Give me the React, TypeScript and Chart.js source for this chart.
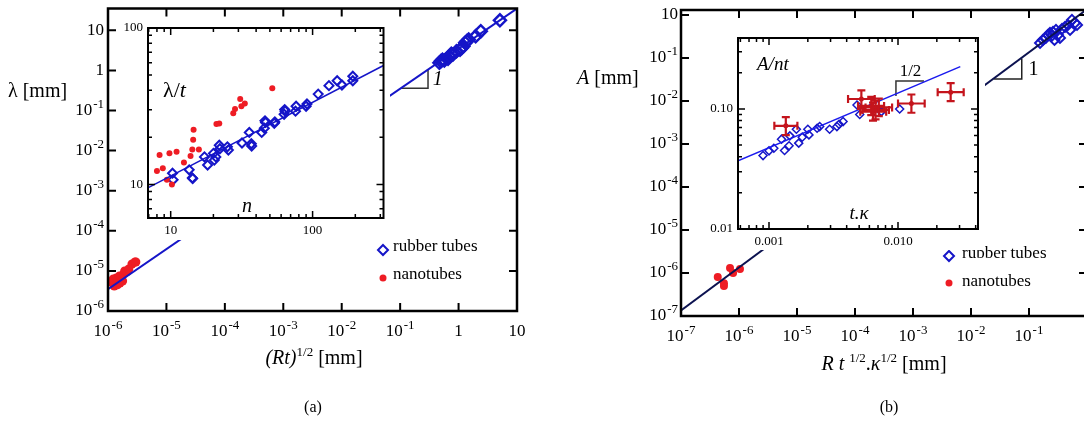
import React, { useEffect, useRef } from 'react';
import { Chart, registerables } from 'chart.js';
Chart.register(...registerables);

const FONT = '"Liberation Serif", "DejaVu Serif", serif';
const BLUE = '#1515c8';
const RED = '#ee1c24';
const DARKRED = '#c4141c';
const NAVY = '#0c1250';

// ---------- Panel (a) main ----------
const aXTicks = [1e-6, 1e-5, 1e-4, 1e-3, 1e-2, 1e-1, 1, 10];
const aXTickLabels = ['10^-6', '10^-5', '10^-4', '10^-3', '10^-2', '10^-1', '1', '10'];
const aYTicks = [1e-6, 1e-5, 1e-4, 1e-3, 1e-2, 1e-1, 1, 10];
const aYTickLabels = ['10^-6', '10^-5', '10^-4', '10^-3', '10^-2', '10^-1', '1', '10'];
const aRubX = [0.47, 0.5, 0.53, 0.57, 0.66, 0.7, 0.75, 0.8, 0.92, 1.06, 1.13, 1.21, 1.3, 1.39, 1.49, 1.96, 2.4, 5.1];
const aRubY = [1.55, 1.71, 1.85, 1.77, 1.95, 2.27, 2.6, 2.5, 3.0, 3.3, 3.6, 4.0, 4.9, 5.4, 5.9, 7.1, 9.5, 17.8];
const aNanoX = [1.13e-6, 1.23e-6, 1.28e-6, 1.39e-6, 1.45e-6, 1.5e-6, 1.57e-6, 1.6e-6, 1.78e-6, 1.85e-6, 1.93e-6, 2.1e-6, 2.27e-6, 2.57e-6, 2.9e-6, 3.0e-6];
const aNanoY = [5.3e-6, 6.3e-6, 4.2e-6, 6.7e-6, 4.5e-6, 6e-6, 7.5e-6, 5e-6, 5.6e-6, 8.4e-6, 1.0e-5, 9.5e-6, 1.12e-5, 1.49e-5, 1.67e-5, 1.67e-5];
const aFitX = [1e-6, 10];
const aFitY = [3.5e-6, 35];
const aTriX = [0.103, 0.3, 0.3];
const aTriY = [0.36, 0.36, 1.05];

// ---------- Panel (a) inset ----------
const aInXMajor = [10, 100];
const aInXLabels = ['10', '100'];
const aInXMinor = [7, 8, 9, 20, 30, 40, 50, 60, 70, 80, 90, 200, 300];
const aInYMajor = [10, 100];
const aInYLabels = ['10', '100'];
const aInYMinor = [7, 8, 9, 20, 30, 40, 50, 60, 70, 80, 90];
const aInRubN = [10.3, 10.4, 13.5, 14.2, 14.3, 17.3, 18.2, 20.0, 20.3, 20.8, 22.0, 22.2, 25.1, 25.5, 31.8, 35.8, 37.0, 37.2, 43.8, 45.7, 46.2, 46.6, 53.7, 54.2, 63.0, 63.6, 64.0, 75.8, 76.5, 90, 91.3, 109.5, 130.4, 149, 161, 192, 192];
const aInRubY = [11.8, 10.7, 12.4, 11.0, 10.9, 15.0, 13.3, 15.8, 14.3, 15.0, 17.8, 16.9, 17.4, 16.6, 18.4, 21.5, 18.2, 17.6, 21.5, 22.9, 25.5, 24.9, 24.6, 25.1, 28.1, 30.1, 29.4, 29.4, 31.6, 31.6, 32.7, 37.8, 42.8, 46.0, 43.2, 46.0, 49.2];
const aInNanoN = [8.0, 8.35, 8.8, 9.4, 9.8, 10.2, 11.0, 12.4, 13.8, 14.2, 14.4, 14.5, 15.8, 21.0, 22.0, 27.6, 28.4, 30.9, 31.5, 33.3, 52.0];
const aInNanoY = [12.2, 15.4, 12.7, 10.7, 15.8, 10.0, 16.2, 13.8, 15.2, 16.7, 19.3, 22.4, 16.7, 24.3, 24.5, 28.5, 30.4, 35.2, 31.6, 32.9, 41.2];
const aInFitN = [6.9, 316];
const aInFitY = [9.5, 57.6];

// ---------- Panel (b) main ----------
const bXTicks = [1e-7, 1e-6, 1e-5, 1e-4, 1e-3, 1e-2, 1e-1, 1];
const bXTickLabels = ['10^-7', '10^-6', '10^-5', '10^-4', '10^-3', '10^-2', '10^-1', '1'];
const bYTicks = [1e-7, 1e-6, 1e-5, 1e-4, 1e-3, 1e-2, 1e-1, 1];
const bYTickLabels = ['10^-7', '10^-6', '10^-5', '10^-4', '10^-3', '10^-2', '10^-1', '10'];
const bRubX = [0.155, 0.174, 0.195, 0.213, 0.23, 0.25, 0.259, 0.275, 0.292, 0.316, 0.342, 0.371, 0.418, 0.47, 0.51, 0.55, 0.62, 0.673];
const bRubY = [0.223, 0.262, 0.292, 0.343, 0.381, 0.33, 0.402, 0.262, 0.448, 0.343, 0.292, 0.472, 0.526, 0.585, 0.448, 0.766, 0.652, 0.585];
const bNanoX = [4.3e-7, 5.5e-7, 5.5e-7, 7.0e-7, 7.9e-7, 1.04e-6];
const bNanoY = [8.1e-7, 5.0e-7, 5.8e-7, 1.3e-6, 1.0e-6, 1.24e-6];
const bFitX = [1e-7, 1];
const bFitY = [1.35e-7, 1.35];
const bTriX = [0.025, 0.075, 0.075];
const bTriY = [0.0325, 0.0325, 0.0975];

// ---------- Panel (b) inset ----------
const bInXMajor = [0.001, 0.01];
const bInXLabels = ['0.001', '0.010'];
const bInXMinor = [0.0006, 0.0007, 0.0008, 0.0009, 0.002, 0.003, 0.004, 0.005, 0.006, 0.007, 0.008, 0.009, 0.02, 0.03, 0.04];
const bInYMajor = [0.01, 0.1];
const bInYLabels = ['0.01', '0.10'];
const bInYMinor = [0.02, 0.03, 0.04, 0.05, 0.06, 0.07, 0.08, 0.09, 0.2, 0.3];
const bInRubX = [0.000899, 0.001, 0.00109, 0.00125, 0.00132, 0.00145, 0.00143, 0.00163, 0.0017, 0.00181, 0.002, 0.00204, 0.00236, 0.00247, 0.00295, 0.00336, 0.00349, 0.00375, 0.00481, 0.00505, 0.00743, 0.0103];
const bInRubY = [0.0409, 0.0448, 0.0471, 0.056, 0.0451, 0.0597, 0.0493, 0.0678, 0.0519, 0.0582, 0.0678, 0.0608, 0.069, 0.0713, 0.0678, 0.0713, 0.0746, 0.0785, 0.108, 0.09, 0.095, 0.1];
const bInNanoX = [0.00135, 0.0052, 0.0062, 0.0064, 0.0067, 0.0071, 0.0127, 0.0256];
const bInNanoY = [0.0723, 0.121, 0.106, 0.095, 0.098, 0.103, 0.111, 0.138];
const bInNanoXLo = [0.0011, 0.0041, 0.0049, 0.0051, 0.0053, 0.0056, 0.01, 0.0203];
const bInNanoXHi = [0.00166, 0.0066, 0.0078, 0.0081, 0.0085, 0.009, 0.0161, 0.0323];
const bInNanoYLo = [0.0605, 0.1015, 0.089, 0.08, 0.082, 0.087, 0.093, 0.116];
const bInNanoYHi = [0.0855, 0.143, 0.126, 0.113, 0.117, 0.122, 0.132, 0.164];
const bInFitX = [0.000575, 0.0304];
const bInFitY = [0.037, 0.225];
const bInTriX = [0.00964, 0.00964, 0.0159];
const bInTriY = [0.128, 0.171, 0.171];

const pts = (xs: number[], ys: number[]) => xs.map((x, i) => ({ x, y: ys[i] }));

function drawTickLabel(ctx: CanvasRenderingContext2D, text: string, x: number, y: number, align: string, size: number, supSize: number, rise: number) {
  const parts = text.split('^');
  const base = parts[0];
  const sup = parts[1] || '';
  ctx.font = `${size}px ${FONT}`;
  const wb = ctx.measureText(base).width;
  let ws = 0;
  if (sup) {
    ctx.font = `${supSize}px ${FONT}`;
    ws = ctx.measureText(sup).width + 1;
  }
  const total = wb + ws;
  const x0 = align === 'center' ? x - total / 2 : align === 'right' ? x - total : x;
  ctx.textAlign = 'left';
  ctx.textBaseline = 'middle';
  ctx.font = `${size}px ${FONT}`;
  ctx.fillText(base, x0, y);
  if (sup) {
    ctx.font = `${supSize}px ${FONT}`;
    ctx.fillText(sup, x0 + wb + 1, y - rise);
  }
}

const framePlugin = {
  id: 'frame',
  beforeDraw(chart: any, _a: any, o: any) {
    if (o.bg) {
      const c = chart.ctx;
      c.save();
      c.fillStyle = '#ffffff';
      c.fillRect(0, 0, chart.width, chart.height);
      c.restore();
    }
  },
  afterDatasetsDraw(chart: any, _a: any, o: any) {
    const ctx: CanvasRenderingContext2D = chart.ctx;
    const a = chart.chartArea;
    const xs = chart.scales.x;
    const ys = chart.scales.y;
    ctx.save();
    if (o.err) {
      const e = o.err;
      ctx.strokeStyle = e.color;
      ctx.lineWidth = e.width;
      for (let i = 0; i < e.x.length; i++) {
        const px = xs.getPixelForValue(e.x[i]);
        const py = ys.getPixelForValue(e.y[i]);
        const xl = xs.getPixelForValue(e.xLo[i]);
        const xh = xs.getPixelForValue(e.xHi[i]);
        const yl = ys.getPixelForValue(e.yLo[i]);
        const yh = ys.getPixelForValue(e.yHi[i]);
        ctx.beginPath();
        ctx.moveTo(xl, py); ctx.lineTo(xh, py);
        ctx.moveTo(xl, py - e.cap); ctx.lineTo(xl, py + e.cap);
        ctx.moveTo(xh, py - e.cap); ctx.lineTo(xh, py + e.cap);
        ctx.moveTo(px, yl); ctx.lineTo(px, yh);
        ctx.moveTo(px - e.cap, yl); ctx.lineTo(px + e.cap, yl);
        ctx.moveTo(px - e.cap, yh); ctx.lineTo(px + e.cap, yh);
        ctx.stroke();
      }
    }
    ctx.strokeStyle = '#000';
    ctx.fillStyle = '#000';
    const ticks = (xv: number[], yv: number[], len: number, w: number) => {
      ctx.lineWidth = w;
      ctx.beginPath();
      xv.forEach((v) => {
        const p = xs.getPixelForValue(v);
        if (p < a.left - 0.5 || p > a.right + 0.5) return;
        ctx.moveTo(p, a.bottom); ctx.lineTo(p, a.bottom - len);
        ctx.moveTo(p, a.top); ctx.lineTo(p, a.top + len);
      });
      yv.forEach((v) => {
        const p = ys.getPixelForValue(v);
        if (p < a.top - 0.5 || p > a.bottom + 0.5) return;
        ctx.moveTo(a.left, p); ctx.lineTo(a.left + len, p);
        ctx.moveTo(a.right, p); ctx.lineTo(a.right - len, p);
      });
      ctx.stroke();
    };
    if (o.xMinor || o.yMinor) ticks(o.xMinor || [], o.yMinor || [], o.minorLen, o.tickWidth);
    ticks(o.xMajor, o.yMajor, o.majorLen, o.tickWidth);
    ctx.lineWidth = o.frameWidth;
    ctx.strokeRect(a.left, a.top, a.right - a.left, a.bottom - a.top);
    o.xMajor.forEach((v: number, i: number) => {
      drawTickLabel(ctx, o.xLabels[i], xs.getPixelForValue(v), a.bottom + o.xGap, 'center', o.fontSize, o.supSize, o.rise);
    });
    o.yMajor.forEach((v: number, i: number) => {
      drawTickLabel(ctx, o.yLabels[i], a.left - o.yGap, ys.getPixelForValue(v), 'right', o.fontSize, o.supSize, o.rise);
    });
    (o.texts || []).forEach((t: any) => {
      ctx.font = `${t.italic ? 'italic ' : ''}${t.size}px ${FONT}`;
      ctx.textAlign = t.align || 'left';
      ctx.textBaseline = 'middle';
      ctx.fillText(t.text, xs.getPixelForValue(t.x), ys.getPixelForValue(t.y));
    });
    (o.legend || []).forEach((l: any) => {
      if (l.kind === 'diamond') {
        ctx.strokeStyle = l.color;
        ctx.lineWidth = 2;
        ctx.beginPath();
        ctx.moveTo(l.px, l.py - l.r); ctx.lineTo(l.px + l.r, l.py);
        ctx.lineTo(l.px, l.py + l.r); ctx.lineTo(l.px - l.r, l.py);
        ctx.closePath();
        ctx.stroke();
      } else {
        ctx.fillStyle = l.color;
        ctx.beginPath();
        ctx.arc(l.px, l.py, l.r, 0, Math.PI * 2);
        ctx.fill();
      }
      ctx.fillStyle = '#000';
      ctx.font = `${l.size}px ${FONT}`;
      ctx.textAlign = 'left';
      ctx.textBaseline = 'middle';
      ctx.fillText(l.text, l.tx, l.ty);
    });
    ctx.restore();
  },
};

function baseOptions(pad: any, xr: number[], yr: number[], frame: any) {
  return {
    responsive: false,
    animation: false,
    devicePixelRatio: 1,
    layout: { padding: pad },
    scales: {
      x: { type: 'logarithmic', min: xr[0], max: xr[1], display: false },
      y: { type: 'logarithmic', min: yr[0], max: yr[1], display: false },
    },
    plugins: { legend: { display: false }, tooltip: { enabled: false }, frame },
  };
}

const lineDs = (xs: number[], ys: number[], color: string, w: number) => ({
  data: pts(xs, ys), showLine: true, borderColor: color, borderWidth: w, pointRadius: 0, clip: 0, fill: false,
});
const diamondDs = (xs: number[], ys: number[], r: number, w: number) => ({
  data: pts(xs, ys), pointStyle: 'rectRot', pointRadius: r, backgroundColor: 'rgba(255,255,255,0)', borderColor: BLUE, borderWidth: w, showLine: false,
});
const dotDs = (xs: number[], ys: number[], r: number, color: string) => ({
  data: pts(xs, ys), pointStyle: 'circle', pointRadius: r, backgroundColor: color, borderColor: color, borderWidth: 0, showLine: false,
});

const mainFrame = { frameWidth: 2.5, majorLen: 8, tickWidth: 2, fontSize: 17, supSize: 13, rise: 6, xGap: 21, yGap: 4 };
const insetFrame = { frameWidth: 2, majorLen: 7, minorLen: 4, tickWidth: 1.5, fontSize: 13, supSize: 10, rise: 5, xGap: 13, yGap: 5, bg: true };

function configMainA() {
  return {
    type: 'scatter',
    data: {
      datasets: [
        lineDs(aFitX, aFitY, BLUE, 2),
        lineDs(aTriX, aTriY, '#333', 1.5),
        dotDs(aNanoX, aNanoY, 4.5, RED),
        diamondDs(aRubX, aRubY, 6, 2.5),
      ],
    },
    options: baseOptions({ left: 108, top: 8, right: 23, bottom: 112 }, [1e-6, 10], [1e-6, 35], {
      ...mainFrame,
      xMajor: aXTicks, xLabels: aXTickLabels, yMajor: aYTicks, yLabels: aYTickLabels,
      texts: [{ x: 0.36, y: 0.57, text: '1', size: 20, italic: true }],
      legend: [
        { kind: 'diamond', color: BLUE, r: 5, px: 383, py: 250, text: 'rubber tubes', tx: 393, ty: 247, size: 17 },
        { kind: 'dot', color: RED, r: 3.5, px: 383, py: 278, text: 'nanotubes', tx: 393, ty: 275, size: 17 },
      ],
    }),
    plugins: [framePlugin],
  };
}

function configInsetA() {
  return {
    type: 'scatter',
    data: {
      datasets: [
        lineDs(aInFitN, aInFitY, BLUE, 1.5),
        dotDs(aInNanoN, aInNanoY, 3, RED),
        diamondDs(aInRubN, aInRubY, 4.5, 2),
      ],
    },
    options: baseOptions({ left: 28, top: 10, right: 3, bottom: 22 }, [6.92, 316], [6.1, 100], {
      ...insetFrame,
      xMajor: aInXMajor, xLabels: aInXLabels, yMajor: aInYMajor, yLabels: aInYLabels,
      xMinor: aInXMinor, yMinor: aInYMinor,
    }),
    plugins: [framePlugin],
  };
}

function configMainB() {
  return {
    type: 'scatter',
    data: {
      datasets: [
        lineDs(bFitX, bFitY, NAVY, 2),
        lineDs(bTriX, bTriY, '#222', 1.5),
        dotDs(bNanoX, bNanoY, 4, RED),
        diamondDs(bRubX, bRubY, 5, 2),
      ],
    },
    options: baseOptions({ left: 141, top: 10, right: 13, bottom: 107 }, [1e-7, 1], [1e-7, 1.3], {
      ...mainFrame,
      yGap: 3,
      xMajor: bXTicks, xLabels: bXTickLabels, yMajor: bYTicks, yLabels: bYTickLabels,
      texts: [{ x: 0.098, y: 0.052, text: '1', size: 20 }],
      legend: [
        { kind: 'diamond', color: BLUE, r: 5, px: 409, py: 256, text: 'rubber tubes', tx: 422, ty: 254, size: 17 },
        { kind: 'dot', color: RED, r: 3.5, px: 409, py: 283, text: 'nanotubes', tx: 422, ty: 282, size: 17 },
      ],
    }),
    plugins: [framePlugin],
  };
}

function configInsetB() {
  return {
    type: 'scatter',
    data: {
      datasets: [
        lineDs(bInFitX, bInFitY, '#1a1aee', 1.5),
        lineDs(bInTriX, bInTriY, '#333', 1.5),
        diamondDs(bInRubX, bInRubY, 4, 1.5),
        dotDs(bInNanoX, bInNanoY, 2.5, DARKRED),
      ],
    },
    options: baseOptions({ left: 43, top: 13, right: 7, bottom: 21 }, [0.000575, 0.0417], [0.01, 0.39], {
      ...insetFrame,
      xMajor: bInXMajor, xLabels: bInXLabels, yMajor: bInYMajor, yLabels: bInYLabels,
      xMinor: bInXMinor, yMinor: bInYMinor,
      texts: [{ x: 0.0125, y: 0.205, text: '1/2', size: 17, align: 'center' }],
      err: { x: bInNanoX, y: bInNanoY, xLo: bInNanoXLo, xHi: bInNanoXHi, yLo: bInNanoYLo, yHi: bInNanoYHi, color: DARKRED, width: 2.2, cap: 4 },
    }),
    plugins: [framePlugin],
  };
}

function ChartCanvas({ left, top, width, height, make }: any) {
  const ref = useRef<HTMLCanvasElement>(null);
  useEffect(() => {
    const chart = new Chart(ref.current as HTMLCanvasElement, make() as any);
    return () => chart.destroy();
  }, []);
  return <canvas ref={ref} width={width} height={height} style={{ position: 'absolute', left, top, width, height }} />;
}

const sup = (t: string) => <span style={{ fontSize: '13px', position: 'relative', top: '-8px' }}>{t}</span>;

function Txt({ x, y, size, center, children }: any) {
  return (
    <div style={{ position: 'absolute', left: x, top: y, transform: center ? 'translate(-50%,-50%)' : 'translate(0,-50%)', fontFamily: FONT, fontSize: size, whiteSpace: 'nowrap', lineHeight: 1, color: '#000' }}>
      {children}
    </div>
  );
}

export default function App() {
  return (
    <div style={{ position: 'fixed', left: 0, top: 0, width: 1084, height: 423, overflow: 'hidden', background: '#fff' }}>
      <ChartCanvas left={0} top={0} width={540} height={423} make={configMainA} />
      <ChartCanvas left={120} top={18} width={270} height={222} make={configInsetA} />
      <ChartCanvas left={540} top={0} width={560} height={423} make={configMainB} />
      <ChartCanvas left={695} top={25} width={290} height={225} make={configInsetB} />

      <Txt x={8} y={90} size={20}>λ [mm]</Txt>
      <Txt x={314} y={357} size={20} center><i>(Rt)</i>{sup('1/2')} [mm]</Txt>
      <Txt x={313} y={407} size={16} center>(a)</Txt>
      <Txt x={163} y={90} size={22}>λ/<i>t</i></Txt>
      <Txt x={247} y={205} size={20} center><i>n</i></Txt>

      <Txt x={577} y={77} size={20}><i>A</i> [mm]</Txt>
      <Txt x={884} y={363} size={20} center><i>R t</i> {sup('1/2')}.<i>κ</i>{sup('1/2')} [mm]</Txt>
      <Txt x={889} y={407} size={16} center>(b)</Txt>
      <Txt x={757} y={63} size={19}><i>A/nt</i></Txt>
      <Txt x={859} y={212} size={19} center><i>t.κ</i></Txt>
    </div>
  );
}
